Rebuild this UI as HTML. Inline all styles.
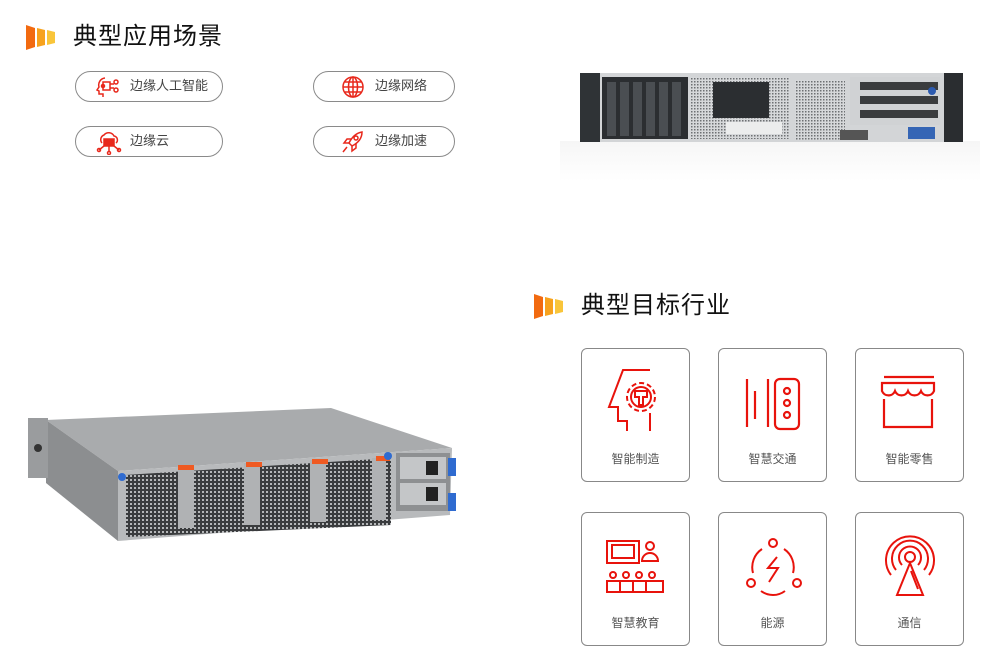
<!DOCTYPE html>
<html><head><meta charset="utf-8"><style>
*{margin:0;padding:0;box-sizing:border-box}
body{width:990px;height:667px;background:#fff;position:relative;overflow:hidden;font-family:"Liberation Sans","Noto Sans CJK SC",sans-serif}
.t{position:absolute;font-size:24px;color:#111;letter-spacing:1px;line-height:30px}
.pill{position:absolute;width:148px;height:31px;border:1.5px solid #8a8a8a;border-radius:16px;font-size:13px;color:#444;line-height:28px}
.pill svg{position:absolute;top:4px}
.pill span{position:absolute;top:0}
.box{position:absolute;width:109px;height:134px;border:1.5px solid #888;border-radius:6px}
.box span{position:absolute;left:0;right:0;text-align:center;top:101px;font-size:12px;color:#555}
.box svg{position:absolute;left:22px;top:20px}
.logo{position:absolute}
</style></head><body>

<svg class="logo" style="left:26px;top:25px" width="30" height="25"><polygon points="0,0 9,3 9,22 0,25" fill="#f26a10"/><polygon points="11,3 19,5 19,20 11,22" fill="#f7a21d"/><polygon points="21,5 29,7 29,18 21,20" fill="#f9c53a"/></svg>
<div class="t" style="left:73px;top:22px">典型应用场景</div>

<div class="pill" style="left:75px;top:71px"><svg style="left:20px" width="24" height="22" fill="none" stroke="#e8281c" stroke-width="1.5"><path d="M9 2a7 7 0 0 0-6 9l-2 3 2 1v3h4v3"/><rect x="7" y="6" width="7" height="8"/><path d="M14 8h4M14 12h4"/><circle cx="20" cy="6" r="2"/><circle cx="20" cy="14" r="2"/><circle cx="7" cy="10" r="1.5" fill="#e8281c"/></svg><span style="left:54px">边缘人工智能</span></div>
<div class="pill" style="left:313px;top:71px;width:142px"><svg style="left:27px" width="24" height="22" fill="none" stroke="#e8281c" stroke-width="1.5"><circle cx="12" cy="11" r="10"/><ellipse cx="12" cy="11" rx="4.5" ry="10"/><path d="M2 11h20M4 6h16M4 16h16M12 1v20"/></svg><span style="left:61px">边缘网络</span></div>
<div class="pill" style="left:75px;top:126px"><svg style="left:20px" width="26" height="24" fill="none" stroke="#e8281c" stroke-width="1.5"><path d="M6 12a5 5 0 0 1 2-8 6 6 0 0 1 10 1 4 4 0 0 1 2 7"/><rect x="8" y="8" width="10" height="7" fill="#e8281c"/><path d="M3 19l5-4M13 15v6M23 19l-5-4"/><circle cx="3" cy="19" r="1.5"/><circle cx="13" cy="22" r="1.5"/><circle cx="23" cy="19" r="1.5"/></svg><span style="left:54px">边缘云</span></div>
<div class="pill" style="left:313px;top:126px;width:142px"><svg style="left:27px" width="24" height="22" fill="none" stroke="#e8281c" stroke-width="1.5"><path d="M21 1c-6 1-10 5-13 11l3 3c6-3 10-7 10-14z"/><circle cx="15" cy="7" r="2"/><path d="M8 12l-5 0 3-4 4 0M11 15v5l4-3v-4M6 16l-4 5"/></svg><span style="left:61px">边缘加速</span></div>

<!-- top server -->
<div style="position:absolute;left:560px;top:141px;width:420px;height:40px;background:linear-gradient(#f6f6f6,#fff)"></div>
<svg style="position:absolute;left:580px;top:72px" width="384" height="72">
<defs><pattern id="m" width="3" height="3" patternUnits="userSpaceOnUse"><rect width="3" height="3" fill="#d6d8da"/><rect width="1.5" height="1.5" fill="#6d7073"/></pattern></defs>
<rect x="0" y="1" width="383" height="69" fill="#d3d5d7"/>
<rect x="0" y="1" width="20" height="69" fill="#2f3336"/>
<rect x="364" y="1" width="19" height="69" fill="#2a2d30"/>
<rect x="22" y="5" width="86" height="62" fill="#2b2e31"/>
<g fill="#4a4e52"><rect x="27" y="10" width="9" height="54"/><rect x="40" y="10" width="9" height="54"/><rect x="53" y="10" width="9" height="54"/><rect x="66" y="10" width="9" height="54"/><rect x="79" y="10" width="9" height="54"/><rect x="92" y="10" width="9" height="54"/></g>
<rect x="110" y="5" width="100" height="62" fill="url(#m)"/>
<rect x="133" y="10" width="56" height="36" fill="#2b2e31"/>
<rect x="146" y="50" width="56" height="12" fill="#eceded"/>
<rect x="215" y="8" width="50" height="60" fill="url(#m)"/>
<rect x="270" y="5" width="90" height="48" fill="#d0d2d4"/>
<rect x="280" y="10" width="78" height="8" fill="#3a3c3e"/><rect x="280" y="24" width="78" height="8" fill="#3a3c3e"/><rect x="280" y="38" width="78" height="8" fill="#3a3c3e"/>
<rect x="260" y="58" width="28" height="10" fill="#555"/>
<rect x="328" y="55" width="27" height="12" fill="#3565b5"/>
<circle cx="352" cy="19" r="4" fill="#2c5bb0"/>
</svg>

<!-- bottom server -->
<svg style="position:absolute;left:26px;top:403px" width="432" height="142">
<defs><pattern id="g" width="4" height="4" patternUnits="userSpaceOnUse"><rect width="4" height="4" fill="#3a3c3e"/><rect width="2" height="2" fill="#b5b7b9"/></pattern></defs>
<polygon points="20,17 305,5 426,45 92,68" fill="#a9abad"/>
<polygon points="20,17 92,68 92,138 20,80" fill="#8c8e90"/>
<rect x="2" y="15" width="20" height="60" fill="#9a9c9e"/>
<circle cx="12" cy="45" r="4" fill="#333"/>
<polygon points="92,68 426,45 424,112 92,138" fill="#b8babc"/>
<polygon points="100,72 365,55 365,122 100,134" fill="url(#g)"/>
<g fill="#b0b2b4"><rect x="152" y="63" width="16" height="62"/><rect x="218" y="60" width="16" height="62"/><rect x="284" y="57" width="16" height="62"/><rect x="346" y="55" width="14" height="62"/></g>
<g fill="#ef5a22"><rect x="152" y="62" width="16" height="5"/><rect x="220" y="59" width="16" height="5"/><rect x="286" y="56" width="16" height="5"/><rect x="350" y="53" width="14" height="5"/></g>
<rect x="370" y="50" width="54" height="58" fill="#8e9092"/>
<rect x="374" y="54" width="46" height="22" fill="#c4c6c8"/><rect x="374" y="80" width="46" height="22" fill="#c4c6c8"/>
<rect x="400" y="58" width="12" height="14" fill="#222"/><rect x="400" y="84" width="12" height="14" fill="#222"/>
<rect x="422" y="55" width="8" height="18" fill="#2f6bd0"/><rect x="422" y="90" width="8" height="18" fill="#2f6bd0"/>
<circle cx="96" cy="74" r="4" fill="#2f6bd0"/><circle cx="362" cy="53" r="4" fill="#2f6bd0"/>
</svg>

<svg class="logo" style="left:534px;top:294px" width="30" height="25"><polygon points="0,0 9,3 9,22 0,25" fill="#f26a10"/><polygon points="11,3 19,5 19,20 11,22" fill="#f7a21d"/><polygon points="21,5 29,7 29,18 21,20" fill="#f9c53a"/></svg>
<div class="t" style="left:581px;top:291px">典型目标行业</div>

<div class="box" style="left:581px;top:348px"><svg width="64" height="64" fill="none" stroke="#e8130c" stroke-width="2"><path d="M46 1H19L5 38h9v14h9v10"/><circle cx="37" cy="28" r="14" stroke-dasharray="5 3"/><circle cx="37" cy="28" r="10"/><path d="M31 22h12v6h-4v8h-4v-8h-4z"/><path d="M46 44v18"/></svg><span>智能制造</span></div>
<div class="box" style="left:718px;top:348px"><svg width="64" height="64" fill="none" stroke="#e8130c" stroke-width="2.2"><path d="M6 10v48M14 22v28M27 10v48"/><rect x="34" y="10" width="24" height="50" rx="5"/><circle cx="46" cy="22" r="3"/><circle cx="46" cy="34" r="3"/><circle cx="46" cy="46" r="3"/></svg><span>智慧交通</span></div>
<div class="box" style="left:855px;top:348px"><svg width="64" height="64" fill="none" stroke="#e8130c" stroke-width="2.2"><path d="M6 8h50M4 14h52v8a7 7 0 0 1-13 0 7 7 0 0 1-13 0 7 7 0 0 1-13 0 7 7 0 0 1-13 0z"/><path d="M6 30v28h48V30"/></svg><span>智能零售</span></div>

<div class="box" style="left:581px;top:512px"><svg width="64" height="64" fill="none" stroke="#e8130c" stroke-width="2"><rect x="3" y="8" width="32" height="22"/><rect x="8" y="12" width="22" height="13"/><circle cx="46" cy="13" r="4"/><path d="M38 28a8 8 0 0 1 16 0z"/><circle cx="9" cy="42" r="3"/><circle cx="22" cy="42" r="3"/><circle cx="35" cy="42" r="3"/><circle cx="48" cy="42" r="3"/><path d="M3 48h56v11H3zM16 48v11M29 48v11M42 48v11"/></svg><span>智慧教育</span></div>
<div class="box" style="left:718px;top:512px"><svg width="64" height="64" fill="none" stroke="#e8130c" stroke-width="2"><circle cx="32" cy="10" r="4"/><circle cx="10" cy="50" r="4"/><circle cx="56" cy="50" r="4"/><path d="M21 16a22 22 0 0 0-9 24M43 16a22 22 0 0 1 9 24M20 58a20 20 0 0 0 24 0"/><path d="M36 24l-9 11h10l-9 14"/></svg><span>能源</span></div>
<div class="box" style="left:855px;top:512px"><svg width="64" height="64" fill="none" stroke="#e8130c" stroke-width="2"><circle cx="32" cy="24" r="5"/><path d="M24 32a11 11 0 1 1 16 0M18 37a18 18 0 1 1 28 0M13 42a24 24 0 1 1 38 0"/><path d="M32 30L19 62h26zM33 38l7 18"/></svg><span>通信</span></div>

</body></html>
